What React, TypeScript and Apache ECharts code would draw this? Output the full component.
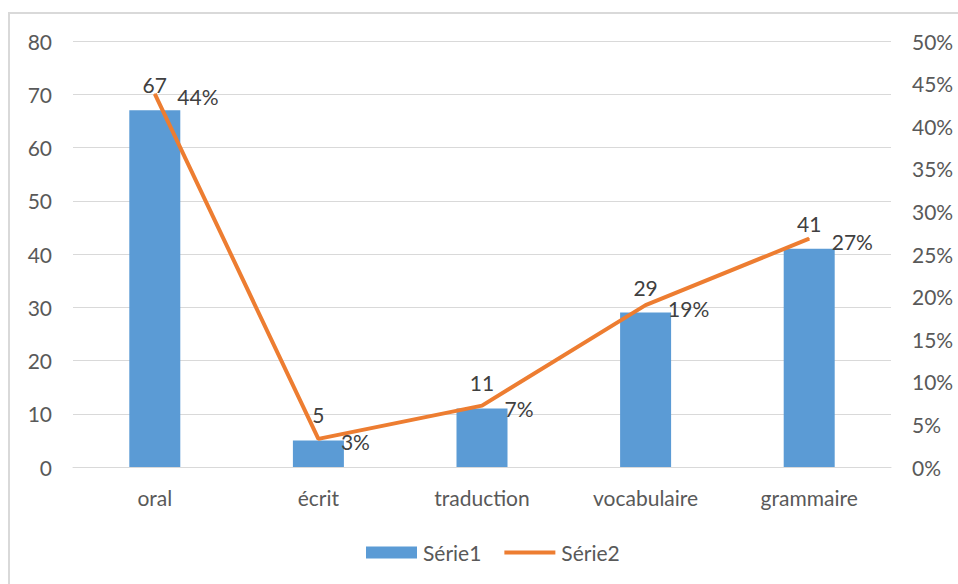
import React, { useEffect, useRef } from "react";
import * as echarts from "echarts";

const categories = ["oral", "écrit", "traduction", "vocabulaire", "grammaire"];
const serie1 = [67, 5, 11, 29, 41];
const serie2 = [0.438, 0.033, 0.072, 0.19, 0.268];
const leftTicks = { min: 0, max: 80, interval: 10 };
const rightTicks = { min: 0, max: 0.5, interval: 0.05 };

const FONT = "Lato";
const FS = 21;

export default function App() {
  const ref = useRef<HTMLDivElement>(null);
  useEffect(() => {
    if (!ref.current) return;
    const chart = echarts.init(ref.current, undefined, { renderer: "svg" });
    chart.setOption({
      animation: false,
      backgroundColor: "#ffffff",
      textStyle: { fontFamily: FONT },
      graphic: [
        {
          type: "rect",
          shape: { x: 9, y: 13, width: 970, height: 600 },
          style: { fill: "none", stroke: "#d9d9d9", lineWidth: 2 },
          silent: true,
        },
      ],
      grid: { left: 73, right: 67, top: 41, bottom: 117, containLabel: false },
      legend: {
        top: 542,
        left: 366,
        padding: 0,
        itemWidth: 51,
        itemHeight: 12,
        itemGap: 23,
        textStyle: { fontFamily: FONT, fontSize: FS, color: "#595959", padding: [0, 0, 0, 1] },
        data: [
          { name: "Série1", icon: "rect" },
          { name: "Série2", icon: "path://M0,0 L52,0 L52,4 L0,4 Z" },
        ],
      },
      xAxis: {
        type: "category",
        data: categories,
        axisTick: { show: false },
        axisLine: { lineStyle: { color: "#d9d9d9", width: 1 } },
        axisLabel: { fontFamily: FONT, fontSize: FS, color: "#595959", margin: 20 },
      },
      yAxis: [
        {
          type: "value",
          ...leftTicks,
          axisLine: { show: false },
          axisTick: { show: false },
          splitLine: { lineStyle: { color: "#d9d9d9", width: 1 } },
          axisLabel: { fontFamily: FONT, fontSize: FS, color: "#595959", margin: 21 },
        },
        {
          type: "value",
          ...rightTicks,
          position: "right",
          axisLine: { show: false },
          axisTick: { show: false },
          splitLine: { show: false },
          axisLabel: {
            fontFamily: FONT,
            fontSize: FS,
            color: "#595959",
            margin: 21,
            formatter: (v: number) => Math.round(v * 100) + "%",
          },
        },
      ],
      series: [
        {
          name: "Série1",
          type: "bar",
          data: serie1,
          barWidth: 51,
          itemStyle: { color: "#5B9BD5" },
          label: {
            show: true,
            position: "top",
            distance: 15,
            fontFamily: FONT,
            fontSize: FS,
            color: "#404040",
          },
        },
        {
          name: "Série2",
          type: "line",
          yAxisIndex: 1,
          data: serie2,
          symbol: "circle",
          symbolSize: 1,
          showSymbol: true,
          lineStyle: { color: "#ED7D31", width: 4 },
          itemStyle: { color: "#ED7D31" },
          label: {
            show: true,
            position: "right",
            distance: 22,
            offset: [0, 3],
            fontFamily: FONT,
            fontSize: FS,
            color: "#404040",
            formatter: (p: any) => Math.round(p.value * 100) + "%",
          },
        },
      ],
    });
    return () => chart.dispose();
  }, []);
  return (
    <div
      ref={ref}
      style={{ position: "fixed", left: 0, top: 0, width: 958, height: 584 }}
    />
  );
}
